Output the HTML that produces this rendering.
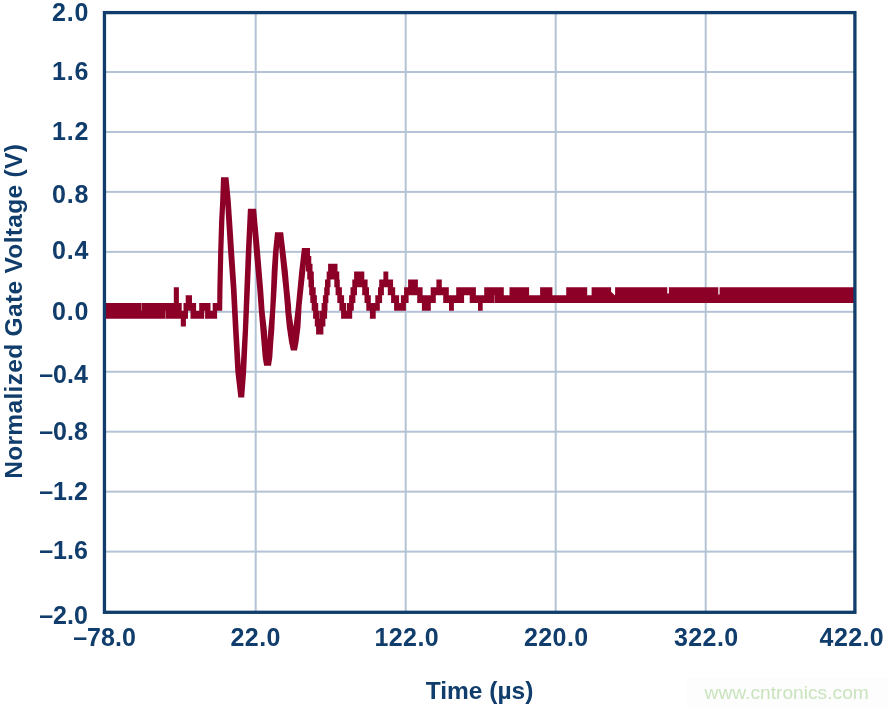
<!DOCTYPE html>
<html><head><meta charset="utf-8"><title>chart</title>
<style>
html,body{margin:0;padding:0;background:#fff;}
body{width:888px;height:708px;overflow:hidden;}
svg{display:block;will-change:transform;}
text{font-family:"Liberation Sans",sans-serif;font-weight:bold;font-size:25px;fill:#103d6b;}
</style></head><body>
<svg width="888" height="708" viewBox="0 0 888 708">
<rect width="888" height="708" fill="#ffffff"/>
<rect x="687" y="677.5" width="201" height="31" fill="#fdfdfd"/>
<rect x="254.70" y="12" width="2" height="600" fill="#b3c3d5"/><rect x="404.70" y="12" width="2" height="600" fill="#b3c3d5"/><rect x="554.70" y="12" width="2" height="600" fill="#b3c3d5"/><rect x="704.70" y="12" width="2" height="600" fill="#b3c3d5"/><rect x="104" y="71.00" width="751" height="2" fill="#b3c3d5"/><rect x="104" y="130.95" width="751" height="2" fill="#b3c3d5"/><rect x="104" y="190.90" width="751" height="2" fill="#b3c3d5"/><rect x="104" y="250.85" width="751" height="2" fill="#b3c3d5"/><rect x="104" y="310.80" width="751" height="2" fill="#b3c3d5"/><rect x="104" y="370.75" width="751" height="2" fill="#b3c3d5"/><rect x="104" y="430.70" width="751" height="2" fill="#b3c3d5"/><rect x="104" y="490.65" width="751" height="2" fill="#b3c3d5"/><rect x="104" y="550.60" width="751" height="2" fill="#b3c3d5"/>
<path d="M219.10,220.80L218.20,250.00L217.30,290.00L217.24,303.00L217.20,303.00L212.70,303.00L212.70,310.85L210.50,310.85L210.50,303.00L199.20,303.00L199.20,310.85L196.10,310.85L196.10,303.00L192.00,303.00L192.00,295.15L185.70,295.15L185.70,303.00L183.50,303.00L183.50,310.85L181.70,310.85L181.70,303.00L178.90,303.00L178.90,287.30L173.80,287.30L173.80,303.00L141.50,303.00L141.50,310.85L141.15,310.85L141.15,303.00L105.00,303.00L105.00,310.85L105.00,318.70L165.35,318.70L165.35,310.85L165.70,310.85L165.70,318.70L180.80,318.70L180.80,326.55L185.90,326.55L185.90,318.70L188.00,318.70L188.00,310.85L190.50,310.85L190.50,318.70L204.20,318.70L204.20,310.85L205.10,310.85L205.10,318.70L217.10,318.70L217.10,310.85L217.20,310.85L222.00,310.85L222.20,310.85L222.50,290.00L223.40,250.00L224.40,220.80L225.22,203.78L226.20,220.80L228.00,250.00L230.90,290.00L233.00,330.00L235.30,371.50L238.30,397.60L244.20,397.60L244.23,397.20L244.30,397.20L244.30,396.29L246.20,371.50L248.10,330.00L249.90,290.00L251.50,250.00L252.34,230.71L253.70,250.00L257.30,290.00L258.90,311.90L260.40,329.70L261.40,342.00L262.70,357.40L264.10,365.80L264.10,365.80L271.00,365.80L271.00,365.80L272.30,357.40L273.30,342.00L274.30,329.70L275.20,311.90L276.60,290.00L277.60,271.20L278.60,252.00L279.13,246.87L279.60,252.00L281.50,271.20L283.50,290.00L284.90,306.00L285.30,311.90L286.80,326.70L289.10,342.50L290.90,350.40L291.60,350.40L297.00,350.40L298.50,342.50L300.50,326.70L301.60,306.00L305.30,271.20L305.97,263.90L305.97,271.60L307.23,271.60L307.23,279.45L308.50,279.45L308.50,287.30L309.20,287.30L309.20,295.15L310.30,295.15L310.30,303.00L311.70,303.00L311.70,310.85L313.10,310.85L313.10,318.70L314.80,318.70L314.80,326.55L316.10,326.55L316.10,334.40L316.50,334.40L323.30,334.40L323.40,334.40L323.40,326.55L325.40,326.55L325.40,318.70L327.10,318.70L327.10,310.85L327.50,310.85L327.50,303.00L328.40,303.00L328.40,295.15L329.70,295.15L329.70,287.30L330.50,287.30L330.50,279.45L332.20,279.45L333.40,279.45L334.30,279.45L334.30,287.30L335.60,287.30L335.60,295.15L337.30,295.15L337.30,303.00L339.40,303.00L339.40,310.85L341.10,310.85L341.10,318.70L352.10,318.70L352.20,318.70L352.20,310.85L353.80,310.85L353.80,303.00L355.40,303.00L355.40,295.15L357.00,295.15L357.00,287.30L362.20,287.30L362.20,295.15L364.50,295.15L364.50,303.00L366.30,303.00L366.30,310.85L369.90,310.85L369.90,318.70L375.70,318.70L375.70,310.85L379.80,310.85L379.80,303.00L382.10,303.00L382.10,295.15L383.90,295.15L383.90,287.30L387.80,287.30L387.80,295.15L391.10,295.15L391.10,303.00L394.10,303.00L394.10,310.85L405.90,310.85L405.90,303.00L408.60,303.00L408.60,295.15L417.20,295.15L417.20,303.00L421.90,303.00L421.90,310.85L430.80,310.85L430.80,303.00L435.80,303.00L435.80,295.15L443.20,295.15L443.20,303.00L449.00,303.00L449.00,310.85L453.90,310.85L453.90,303.00L464.10,303.00L464.10,295.15L469.70,295.15L469.70,303.00L478.00,303.00L478.00,310.85L482.70,310.85L482.70,303.00L494.35,303.00L494.35,295.15L494.70,295.15L494.70,303.00L855.00,303.00L855.00,295.15L855.00,287.30L719.60,287.30L719.60,294.50L718.30,294.50L718.30,287.30L668.90,287.30L668.90,293.60L667.30,293.60L667.30,287.30L615.10,287.30L615.10,295.15L614.90,295.15L611.10,291.69L611.10,287.30L591.60,287.30L591.60,295.15L587.20,295.15L587.20,287.30L566.20,287.30L566.20,295.15L552.40,295.15L552.40,287.30L540.10,287.30L540.10,295.15L529.10,295.15L529.10,287.30L509.50,287.30L509.50,295.15L503.80,295.15L503.80,287.30L484.20,287.30L484.20,295.15L475.90,295.15L475.90,287.30L456.20,287.30L456.20,295.15L448.80,295.15L448.80,287.30L441.80,287.30L441.80,279.45L436.40,279.45L436.40,287.30L430.70,287.30L430.70,295.15L422.60,295.15L422.60,287.30L417.90,287.30L417.90,279.45L408.10,279.45L408.10,287.30L404.10,287.30L404.10,295.15L400.90,295.15L400.90,303.00L399.10,303.00L399.10,295.15L395.20,295.15L395.20,287.30L393.10,287.30L393.10,279.45L388.30,279.45L388.30,271.60L383.40,271.60L383.40,279.45L379.20,279.45L379.20,287.30L378.00,287.30L378.00,295.15L375.30,295.15L375.30,303.00L370.80,303.00L370.80,295.15L369.00,295.15L369.00,287.30L367.60,287.30L367.60,279.45L364.30,279.45L364.30,271.60L354.10,271.60L354.10,279.45L352.30,279.45L352.30,287.30L350.50,287.30L350.50,295.15L349.10,295.15L349.10,303.00L347.00,303.00L347.00,310.85L346.20,310.85L346.20,303.00L344.10,303.00L344.10,295.15L341.90,295.15L341.90,287.30L339.80,287.30L339.80,279.45L339.28,279.45L339.28,271.60L337.50,271.60L337.50,263.75L328.10,263.75L328.10,271.60L326.67,271.60L326.67,279.45L325.00,279.45L325.00,287.30L324.20,287.30L324.20,295.15L322.90,295.15L322.90,303.00L321.60,303.00L321.60,310.85L319.85,310.85L319.85,318.70L319.55,318.70L319.55,310.85L318.20,310.85L318.20,303.00L316.90,303.00L316.90,295.15L315.70,295.15L315.70,287.30L314.00,287.30L314.00,279.45L313.80,279.45L313.80,271.60L312.53,271.60L312.53,263.75L311.27,263.75L311.27,255.90L306.70,255.90L306.70,255.90L310.00,255.90L310.00,248.05L301.90,248.05L301.90,248.20L299.20,271.20L295.90,306.00L293.50,326.70L291.30,311.90L291.10,306.00L289.40,290.00L287.80,271.20L285.50,252.00L283.20,232.50L283.20,232.35L275.00,232.35L275.00,232.50L273.00,252.00L271.70,271.20L271.00,290.00L270.00,311.90L268.30,329.70L267.47,339.95L266.80,329.70L264.70,311.90L263.20,290.00L259.90,250.00L256.10,208.80L253.30,208.80L250.80,208.80L247.90,208.80L245.90,250.00L244.30,290.00L242.80,330.00L240.70,366.31L238.60,330.00L236.60,290.00L234.00,250.00L232.10,220.80L230.70,200.00L228.50,177.30L226.20,177.30L223.30,177.30L221.00,177.30L220.20,200.00Z" fill="#8c0028" fill-rule="evenodd"/>
<rect x="104.45" y="12.6" width="750.45" height="599.7" fill="none" stroke="#103d6b" stroke-width="3.3"/>
<text x="89.2" y="20.70" text-anchor="end" style="letter-spacing:0.8px">2.0</text><text x="89.2" y="79.80" text-anchor="end" style="letter-spacing:0.8px">1.6</text><text x="89.2" y="140.00" text-anchor="end" style="letter-spacing:0.8px">1.2</text><text x="89.2" y="203.00" text-anchor="end" style="letter-spacing:0.8px">0.8</text><text x="89.2" y="259.00" text-anchor="end" style="letter-spacing:0.8px">0.4</text><text x="89.2" y="319.70" text-anchor="end" style="letter-spacing:0.8px">0.0</text><text x="87.9" y="382.90" text-anchor="end">–0.4</text><text x="87.9" y="439.70" text-anchor="end">–0.8</text><text x="87.9" y="500.00" text-anchor="end">–1.2</text><text x="87.9" y="559.00" text-anchor="end">–1.6</text><text x="87.9" y="623.90" text-anchor="end">–2.0</text>
<text x="104.5" y="645.8" text-anchor="middle" style="letter-spacing:0.0px">–78.0</text><text x="255.7" y="645.8" text-anchor="middle" style="letter-spacing:0.4px">22.0</text><text x="406.8" y="645.8" text-anchor="middle" style="letter-spacing:0.4px">122.0</text><text x="556.3" y="645.8" text-anchor="middle" style="letter-spacing:0.4px">220.0</text><text x="706.3" y="645.8" text-anchor="middle" style="letter-spacing:0.4px">322.0</text><text x="851.9" y="645.8" text-anchor="middle" style="letter-spacing:0.4px">422.0</text>
<text x="479.5" y="698.7" text-anchor="middle" style="font-size:24.5px">Time (µs)</text>
<text transform="translate(21.6,478.8) rotate(-90)" x="0" y="0" style="font-size:24.5px" textLength="334.7" lengthAdjust="spacing">Normalized Gate Voltage (V)</text>
<text x="704.6" y="698.6" style="font-weight:normal;font-size:19.2px;fill:#c9e4bd">www.cntronics.com</text>
</svg>
</body></html>
